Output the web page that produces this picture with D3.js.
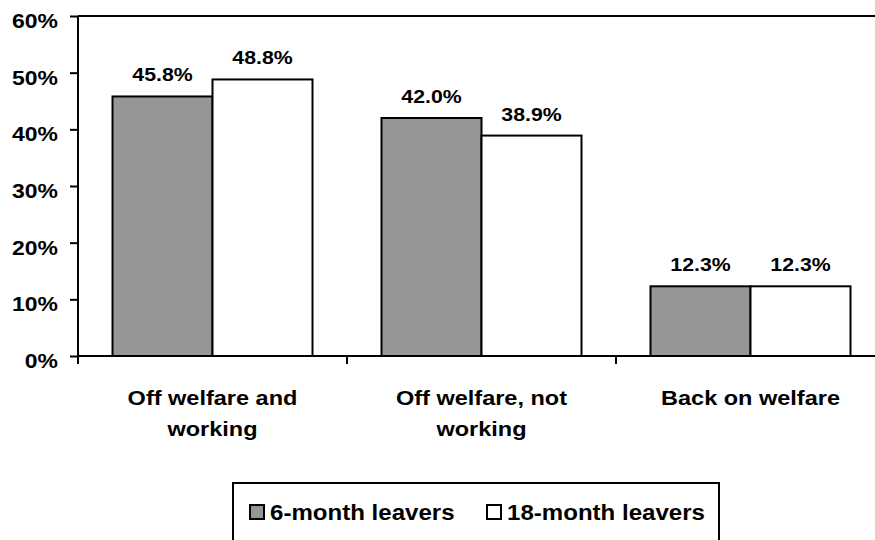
<!DOCTYPE html>
<html>
<head>
<meta charset="utf-8">
<script src="https://cdn.jsdelivr.net/npm/d3@7/dist/d3.min.js"></script>
<style>
  html, body { margin: 0; padding: 0; background: #fff; }
  svg { display: block; }
  text { font-family: "Liberation Sans", Arial, sans-serif; font-weight: bold; fill: #000; }
</style>
</head>
<body>
<svg id="chart" width="875" height="540"></svg>
<script>
const categories = [["Off welfare and", "working"], ["Off welfare, not", "working"], ["Back on welfare"]];
const categoryKeys = ["Off welfare and working", "Off welfare, not working", "Back on welfare"];
const seriesNames = ["6-month leavers", "18-month leavers"];
const sixMonth = [45.8, 42.0, 12.3];
const eighteenMonth = [48.8, 38.9, 12.3];
const yTicks = [0, 10, 20, 30, 40, 50, 60];
const seriesColors = ["#969696", "#ffffff"];

const svg = d3.select("#chart");
const SX = 1.12; // horizontal stretch of the reference glyphs

const pLeft = 78, pRight = 885, pTop = 16, pBottom = 356;

const x = d3.scaleBand().domain(categoryKeys).range([pLeft, pRight]).paddingInner(0).paddingOuter(0);
const xs = d3.scaleBand().domain(seriesNames).range([0, x.bandwidth()]).paddingInner(0).paddingOuter(0.345);
const y = d3.scaleLinear().domain([0, 60]).range([pBottom, pTop]);

function stretchedText(g, tx, ty, str, anchor, size) {
  return g.append("text")
    .attr("transform", `translate(${tx},${ty}) scale(${SX},1)`)
    .attr("text-anchor", anchor)
    .style("font-size", size + "px")
    .text(str);
}

// Top frame line
svg.append("line").attr("x1", pLeft).attr("x2", pRight).attr("y1", y(60)).attr("y2", y(60))
  .attr("stroke", "#000").attr("stroke-width", 2);

// Bars
const data = categoryKeys.map((c, i) => ({ cat: c, vals: [sixMonth[i], eighteenMonth[i]] }));
const groups = svg.append("g").selectAll("g").data(data).join("g")
  .attr("transform", d => `translate(${x(d.cat)},0)`);
groups.selectAll("rect").data(d => d.vals.map((v, j) => ({ v, s: seriesNames[j], j })))
  .join("rect")
  .attr("x", d => xs(d.s))
  .attr("y", d => y(d.v))
  .attr("width", xs.bandwidth())
  .attr("height", d => y(0) - y(d.v))
  .attr("fill", d => seriesColors[d.j])
  .attr("stroke", "#000").attr("stroke-width", 2);

// Value labels
groups.each(function(d) {
  const g = d3.select(this);
  d.vals.forEach((v, j) => {
    stretchedText(g, xs(seriesNames[j]) + xs.bandwidth() / 2, y(v) - 15, v.toFixed(1) + "%", "middle", 19);
  });
});

// Y axis
const yAxis = svg.append("g").attr("transform", `translate(${pLeft},0)`)
  .call(d3.axisLeft(y).tickValues(yTicks).tickSize(8).tickFormat(""));
yAxis.select(".domain").attr("stroke", "#000").attr("stroke-width", 2).attr("d", `M0,${pTop}V${pBottom}`);
yAxis.selectAll(".tick line").attr("stroke", "#000").attr("stroke-width", 2);
yTicks.forEach(t => {
  stretchedText(svg, pLeft - 20, y(t) + 12, t + "%", "end", 20.5);
});

// X axis baseline and category ticks
svg.append("line").attr("x1", pLeft).attr("x2", pRight).attr("y1", pBottom).attr("y2", pBottom)
  .attr("stroke", "#000").attr("stroke-width", 2);
const boundaries = categoryKeys.map(c => x(c)).concat([x(categoryKeys[categoryKeys.length - 1]) + x.bandwidth()]);
svg.append("g").selectAll("line").data(boundaries).join("line")
  .attr("x1", d => d).attr("x2", d => d).attr("y1", pBottom).attr("y2", pBottom + 8)
  .attr("stroke", "#000").attr("stroke-width", 2);

// Category labels
categories.forEach((lines, i) => {
  const cx = x(categoryKeys[i]) + x.bandwidth() / 2;
  lines.forEach((ln, k) => {
    stretchedText(svg, cx, 405 + k * 31, ln, "middle", 21);
  });
});

// Legend
svg.append("rect").attr("x", 233).attr("y", 483).attr("width", 486).attr("height", 80)
  .attr("fill", "#fff").attr("stroke", "#000").attr("stroke-width", 2);
const legendPos = [{ sx: 250, tx: 270 }, { sx: 487, tx: 507 }];
seriesNames.forEach((s, j) => {
  svg.append("rect").attr("x", legendPos[j].sx).attr("y", 505).attr("width", 14).attr("height", 14)
    .attr("fill", seriesColors[j]).attr("stroke", "#000").attr("stroke-width", 2);
  stretchedText(svg, legendPos[j].tx, 520, s, "start", 21.5);
});
</script>
</body>
</html>
